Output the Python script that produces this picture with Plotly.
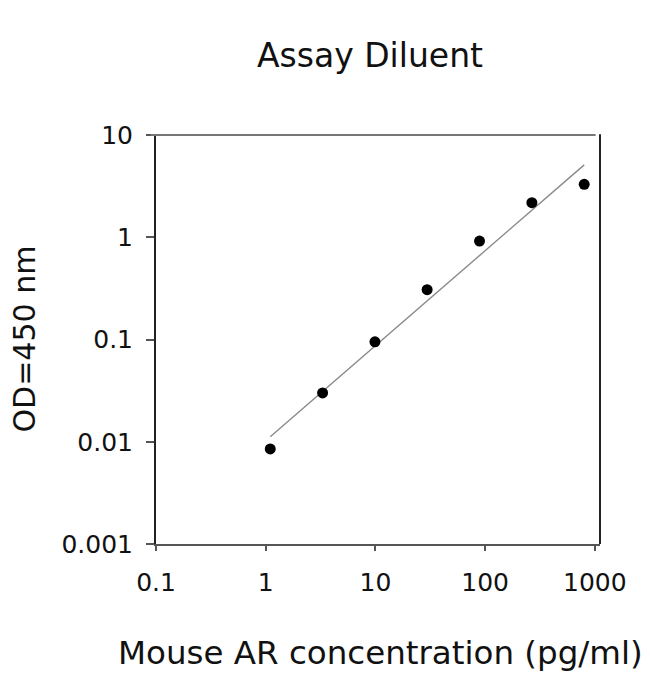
import plotly.graph_objects as go

# standard curve, 3-fold dilutions
conc = [1.1, 3.3, 9.9, 29.6, 88.9, 266.7, 800]
od = [0.0085, 0.030, 0.095, 0.307, 0.918, 2.18, 3.29]

# fitted line (log-log)
fit_conc = [1.1, 800]
fit_od = [0.0112, 5.1]

x_ticks = [0.1, 1, 10, 100, 1000]
x_labels = ['0.1', '1', '10', '100', '1000']
y_ticks = [0.001, 0.01, 0.1, 1, 10]
y_labels = ['0.001', '0.01', '0.1', '1', '10']

FONT = 'DejaVu Sans'
OFF = 8  # page body margin

fig = go.Figure()
fig.add_trace(go.Scatter(x=fit_conc, y=fit_od, mode='lines',
                         line=dict(color='#8a8a8a', width=1.4), hoverinfo='skip'))
fig.add_trace(go.Scatter(x=conc, y=od, mode='markers',
                         marker=dict(color='black', size=11, symbol='circle')))

fig.update_xaxes(type='log', range=[-1, 3.047], tickvals=x_ticks, ticktext=x_labels,
                 showline=True, linecolor='#555', linewidth=2, showgrid=False, zeroline=False,
                 ticks='outside', ticklen=5, tickwidth=2, tickcolor='#555',
                 ticklabelstandoff=10, tickfont=dict(family=FONT, size=25, color='#111'))
fig.update_yaxes(type='log', range=[-3, 1], tickvals=y_ticks, ticktext=y_labels,
                 showline=True, linecolor='#222', linewidth=2, showgrid=False, zeroline=False,
                 ticks='outside', ticklen=8, tickwidth=1.5, tickcolor='#555',
                 ticklabelstandoff=8, tickfont=dict(family=FONT, size=25, color='#111'))

# top and right frame lines
fig.add_shape(type='line', xref='paper', yref='paper', x0=-0.012, x1=0.99, y0=1, y1=1,
              line=dict(color='#777', width=2))
fig.add_shape(type='line', xref='paper', yref='paper', x0=1, x1=1, y0=0, y1=1.002,
              line=dict(color='#222', width=2))

fig.add_annotation(text='Mouse AR concentration (pg/ml)', xref='paper', yref='paper',
                   x=(380 - 156) / 444, y=-(653 - 544) / 409, xanchor='center', yanchor='middle',
                   showarrow=False, font=dict(family=FONT, size=32.5, color='#111'))
fig.add_annotation(text='OD=450 nm', xref='paper', yref='paper', textangle=-90,
                   x=(24 - 156) / 444, y=0.5, xanchor='center', yanchor='middle',
                   showarrow=False, font=dict(family=FONT, size=30, color='#111'))

fig.update_layout(
    width=650 - OFF, height=674 - OFF,
    margin=dict(l=156 - OFF, r=50, t=135 - OFF, b=130),
    paper_bgcolor='white', plot_bgcolor='white',
    showlegend=False,
    title=dict(text='Assay Diluent', x=(370 - OFF) / (650 - OFF), xanchor='center',
               y=1 - (55 - OFF) / (674 - OFF), yanchor='middle',
               font=dict(family=FONT, size=33, color='#111')),
)

fig.write_html("out.html")
